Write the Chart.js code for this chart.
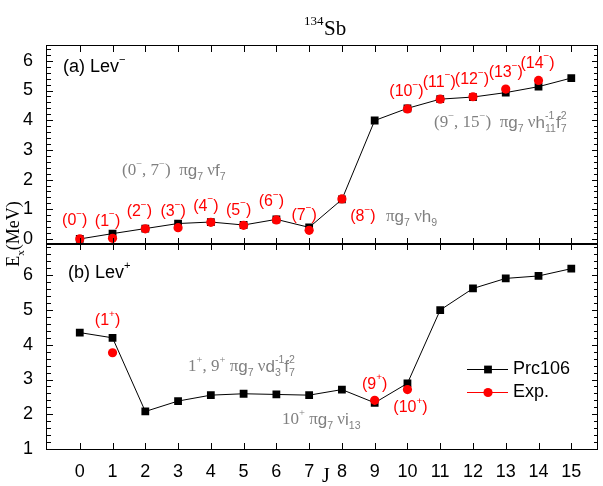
<!DOCTYPE html>
<html>
<head>
<meta charset="utf-8">
<script src="https://cdn.jsdelivr.net/npm/chart.js@4.4.1/dist/chart.umd.min.js"></script>
<style>
  html, body { margin: 0; padding: 0; background: #fff; }
  #wrap { position: relative; width: 603px; height: 486px; }
  #wrap canvas { position: absolute; left: 0; top: 0; }
  .frame { position: absolute; border: 1.5px solid #000; box-sizing: border-box; pointer-events: none; }
</style>
</head>
<body>
<div id="wrap">
  <canvas id="cTop" width="603" height="486"></canvas>
  <canvas id="cBot" width="603" height="486"></canvas>
  <canvas id="cTicks" width="603" height="486"></canvas>
</div>
<script>
// ---- data ----
const J = [0, 1, 2, 3, 4, 5, 6, 7, 8, 9, 10, 11, 12, 13, 14, 15];
const levMinusCalc = [0.00, 0.18, 0.35, 0.52, 0.57, 0.47, 0.66, 0.39, 1.33, 3.99, 4.40, 4.71, 4.78, 4.93, 5.13, 5.42];
const levMinusExp  = [0.00, 0.02, 0.34, 0.38, 0.56, 0.46, 0.64, 0.29, 1.35, null, 4.38, 4.71, 4.79, 5.05, 5.34, null];
const levPlusCalc  = [4.35, 4.20, 2.08, 2.38, 2.55, 2.59, 2.57, 2.55, 2.71, 2.33, 2.89, 5.00, 5.62, 5.91, 5.98, 6.19];
const levPlusExp   = [null, 3.77, null, null, null, null, null, null, null, 2.40, 2.71, null, null, null, null, null];
const xTicks = J;
const yTicksTop = [0, 1, 2, 3, 4, 5, 6];
const yTicksBot = [1, 2, 3, 4, 5, 6];

// spin labels of the experimental levels: [J, parity, dx, dy] (offsets in px from the point)
const minusLabels = [[0,'-',-5,-18],[1,'-',-5,-17],[2,'-',-6,-17],[3,'-',-5,-16],[4,'-',-5,-16],
  [5,'-',-5,-15],[6,'-',-5,-18],[7,'-',-5,-15],[8,'-',21,18],[10,'-',-1,-17],[11,'-',-1,-17],
  [12,'-',-1,-17],[13,'-',0,-16],[14,'-',-1,-17]];
const plusLabels = [[1,'+',-5,-32],[9,'+',0,-16],[10,'+',3,18]];

const SANS = '"Liberation Sans", Arial, sans-serif';
const SERIF = '"Liberation Serif", "Times New Roman", serif';
const GREY = '#808080';
const RED = '#ff0000';

const pts = (ys) => J.map((x, i) => ({x: x, y: ys[i]})).filter(p => p.y !== null);

// rich text: parts = [text, mode, family]; mode '' | '^' | '_' ; '^k' = sup stacked over next sub
function richWidth(ctx, parts, size) {
  let w = 0, hold = 0;
  for (const [t, m, f] of parts) {
    const s = m ? size * 0.62 : size;
    ctx.font = s + 'px ' + (f || SANS);
    const tw = ctx.measureText(t).width;
    if (m === '^k') { hold = tw; continue; }
    w += Math.max(tw, hold); hold = 0;
  }
  return w;
}
function rich(ctx, x, y, parts, size, color, align) {
  ctx.save();
  ctx.fillStyle = color;
  ctx.textBaseline = 'middle';
  ctx.textAlign = 'left';
  if (align === 'center') x -= richWidth(ctx, parts, size) / 2;
  let hold = 0;
  for (const [t, m, f] of parts) {
    const s = m ? size * 0.62 : size;
    ctx.font = s + 'px ' + (f || SANS);
    let dy = 0;
    if (m && m[0] === '^') dy = -size * 0.42;
    if (m === '_') dy = size * 0.38;
    ctx.fillText(t, x, y + dy);
    const tw = ctx.measureText(t).width;
    if (m === '^k') { hold = tw; continue; }
    x += Math.max(tw, hold); hold = 0;
  }
  ctx.restore();
}

function spinLabels(chart, list) {
  const ctx = chart.ctx, xs = chart.scales.x, ys = chart.scales.y;
  const exp = chart.data.datasets[1].data;
  for (const [j, par, dx, dy] of list) {
    const p = exp.find(d => d.x === j);
    const px = xs.getPixelForValue(j) + dx, py = ys.getPixelForValue(p.y) + dy;
    rich(ctx, px, py, [['(' + j], [par === '-' ? '\u2212' : '+', '^'], [')']], 16, RED, 'center');
  }
}

function grey(ctx, x, y, parts) { rich(ctx, x, y, parts, 17, GREY, 'left'); }

const calcStyle = {
  label: 'Prc106', borderColor: '#000', backgroundColor: '#000', borderWidth: 1,
  showLine: true, pointStyle: 'rect', pointRadius: 5.5, pointBorderWidth: 0, order: 1
};
const expStyle = {
  label: 'Exp.', borderColor: RED, backgroundColor: RED, borderWidth: 1,
  showLine: false, pointStyle: 'circle', pointRadius: 4.6, pointBorderWidth: 0, order: 0
};

function baseOptions(yMin, yMax, yTicks, showX, pad) {
  return {
    animation: false, responsive: false, events: [],
    layout: { padding: pad },
    plugins: { legend: { display: false }, tooltip: { enabled: false } },
    scales: {
      x: {
        type: 'linear', min: -1, max: 15.8, display: showX,
        afterBuildTicks: s => { s.ticks = xTicks.map(v => ({value: v})); },
        afterFit: s => { s.height = showX ? 37 : 0; },
        grid: { display: false }, border: { display: false },
        ticks: { color: '#000', padding: 4, font: { family: SANS, size: 18 } }
      },
      y: {
        type: 'linear', min: yMin, max: yMax,
        afterBuildTicks: s => { s.ticks = yTicks.map(v => ({value: v})); },
        afterFit: s => { s.width = 47; },
        grid: { display: false }, border: { display: false },
        ticks: { color: '#000', padding: 6, font: { family: SANS, size: 18 } }
      }
    }
  };
}

// ---- top panel: negative parity ----
const chartTop = new Chart(document.getElementById('cTop'), {
  type: 'scatter',
  data: { datasets: [
    Object.assign({}, calcStyle, { data: pts(levMinusCalc) }),
    Object.assign({}, expStyle, { data: pts(levMinusExp) })
  ]},
  options: baseOptions(-0.17, 6.5, yTicksTop, false, {left: 0, top: 46, right: 5, bottom: 242}),
  plugins: [{
    id: 'decorTop',
    afterDraw(chart) {
      const ctx = chart.ctx;
      spinLabels(chart, minusLabels);
      rich(ctx, 63, 67, [['(a) Lev'], ['\u2212', '^']], 18, '#000', 'left');
      grey(ctx, 122, 171, [['(0', '', SERIF], ['\u2212', '^', SERIF], [', 7', '', SERIF], ['\u2212', '^', SERIF], [')  ', '', SERIF],
        ['\u03c0', '', SERIF], ['g'], ['7', '_'], [' \u03bd', '', SERIF], ['f'], ['7', '_']]);
      grey(ctx, 386, 217, [['\u03c0', '', SERIF], ['g'], ['7', '_'], [' \u03bd', '', SERIF], ['h'], ['9', '_']]);
      grey(ctx, 434, 123, [['(9', '', SERIF], ['\u2212', '^', SERIF], [', 15', '', SERIF], ['\u2212', '^', SERIF], [')  ', '', SERIF],
        ['\u03c0', '', SERIF], ['g'], ['7', '_'], [' \u03bd', '', SERIF], ['h'], ['-1', '^k'], ['11', '_'], ['f'], ['2', '^k'], ['7', '_']]);
      // title
      ctx.save();
      ctx.fillStyle = '#000';
      ctx.textBaseline = 'alphabetic';
      ctx.font = '13px ' + SERIF;
      ctx.fillText('134', 304, 25);
      ctx.font = '21px ' + SERIF;
      ctx.fillText('Sb', 324, 35);
      ctx.restore();
    }
  }]
});

// ---- bottom panel: positive parity ----
const chartBot = new Chart(document.getElementById('cBot'), {
  type: 'scatter',
  data: { datasets: [
    Object.assign({}, calcStyle, { data: pts(levPlusCalc) }),
    Object.assign({}, expStyle, { data: pts(levPlusExp) })
  ]},
  options: baseOptions(1, 6.9, yTicksBot, true, {left: 0, top: 244, right: 5, bottom: 0}),
  plugins: [{
    id: 'decorBot',
    afterDraw(chart) {
      const ctx = chart.ctx;
      spinLabels(chart, plusLabels);
      rich(ctx, 68, 273, [['(b) Lev'], ['+', '^']], 18, '#000', 'left');
      grey(ctx, 188, 367, [['1', '', SERIF], ['+', '^', SERIF], [', 9', '', SERIF], ['+', '^', SERIF], [' ', '', SERIF],
        ['\u03c0', '', SERIF], ['g'], ['7', '_'], [' \u03bd', '', SERIF], ['d'], ['-1', '^k'], ['3', '_'], ['f'], ['2', '^k'], ['7', '_']]);
      grey(ctx, 282, 420, [['10', '', SERIF], ['+', '^', SERIF], [' ', '', SERIF],
        ['\u03c0', '', SERIF], ['g'], ['7', '_'], [' \u03bd', '', SERIF], ['i'], ['13', '_']]);

      // legend
      const ds = chart.data.datasets;
      const rows = [[ds[0], 369], [ds[1], 392]];
      for (const [d, y] of rows) {
        ctx.save();
        ctx.fillStyle = d.borderColor;
        ctx.fillRect(467, y, 41, 1);
        ctx.fillStyle = d.backgroundColor;
        ctx.strokeStyle = d.backgroundColor;
        Chart.helpers.drawPoint(ctx, { pointStyle: d.pointStyle, radius: d.pointRadius, borderWidth: 0 }, 488, y + 0.5);
        ctx.restore();
        rich(ctx, 513, y, [[d.label]], 18, '#000', 'left');
      }

      // axis titles
      ctx.save();
      ctx.fillStyle = '#000';
      ctx.textBaseline = 'alphabetic';
      ctx.textAlign = 'center';
      ctx.font = '20px ' + SERIF;
      ctx.fillText('J', 326, 482);
      ctx.translate(20, 234);
      ctx.rotate(-Math.PI / 2);
      rich(ctx, 0, -6, [['E', '', SERIF], ['x', '_', SERIF], ['(MeV)', '', SERIF]], 18, '#000', 'center');
      ctx.restore();
    }
  }]
});

// ---- panel frames (from each chart's area) and inward ticks (from its scales) ----
const wrap = document.getElementById('wrap');
const tctx = document.getElementById('cTicks').getContext('2d');
for (const ch of [chartTop, chartBot]) {
  const a = ch.chartArea, xs = ch.scales.x, ys = ch.scales.y;
  const box = document.createElement('div');
  box.className = 'frame';
  box.style.left = (a.left - 0.75) + 'px';
  box.style.top = (a.top - 0.75) + 'px';
  box.style.width = (a.right - a.left + 1.5) + 'px';
  box.style.height = (a.bottom - a.top + 1.5) + 'px';
  wrap.appendChild(box);

  const L = Math.round(a.left), R = Math.round(a.right);
  const T = Math.round(a.top), B = Math.round(a.bottom);
  tctx.fillStyle = '#000';
  for (const v of xTicks) {
    const px = Math.round(xs.getPixelForValue(v));
    tctx.fillRect(px, B - 6, 1, 6);
    tctx.fillRect(px, T, 1, 6);
  }
  for (let k = Math.ceil(ys.min * 5); k <= Math.floor(ys.max * 5); k++) {
    const py = Math.round(ys.getPixelForValue(k / 5));
    const len = (k % 5 === 0) ? 6 : 4;
    tctx.fillRect(L, py, len, 1);
    tctx.fillRect(R - len, py, len, 1);
  }
}
</script>
</body>
</html>
